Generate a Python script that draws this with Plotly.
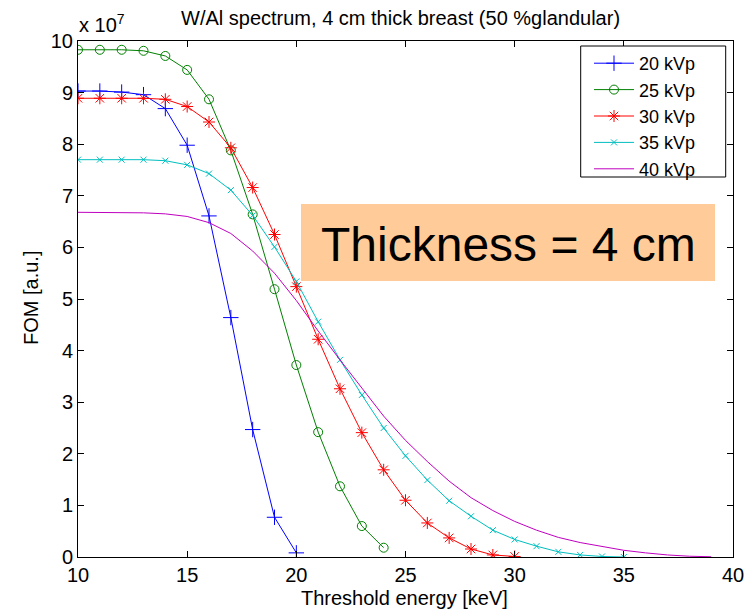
import plotly.graph_objects as go

# ---- data (FOM in units of 1e7) ----
energy_20 = list(range(10, 21))
fom_20 = [9.03, 9.03, 9.01, 8.96, 8.69, 7.98, 6.61, 4.64, 2.47, 0.77, 0.08]

energy_25 = list(range(10, 25))
fom_25 = [9.83, 9.83, 9.83, 9.81, 9.71, 9.44, 8.87, 7.88, 6.64, 5.19, 3.72, 2.42, 1.37, 0.60, 0.18]

energy_30 = list(range(10, 31))
fom_30 = [8.89, 8.89, 8.89, 8.89, 8.87, 8.73, 8.43, 7.93, 7.16, 6.25, 5.24, 4.22, 3.26, 2.41,
          1.69, 1.10, 0.66, 0.37, 0.155, 0.04, 0.01]

energy_35 = list(range(10, 36))
fom_35 = [7.70, 7.70, 7.70, 7.70, 7.68, 7.60, 7.43, 7.11, 6.62, 6.01, 5.34, 4.56, 3.82, 3.14,
          2.50, 1.96, 1.49, 1.09, 0.79, 0.52, 0.34, 0.21, 0.10, 0.04, 0.01, 0.0]

energy_40 = list(range(10, 40))
fom_40 = [6.68, 6.68, 6.68, 6.67, 6.65, 6.60, 6.48, 6.27, 5.93, 5.50, 4.97, 4.38, 3.82, 3.28,
          2.73, 2.26, 1.85, 1.47, 1.15, 0.90, 0.69, 0.52, 0.38, 0.28, 0.20, 0.13, 0.08, 0.04,
          0.015, 0.005]

series_names = ["20 kVp", "25 kVp", "30 kVp", "35 kVp", "40 kVp"]
x_ticks = [10, 15, 20, 25, 30, 35, 40]
y_ticks = list(range(0, 11))

title_text = "W/Al spectrum, 4 cm thick breast (50 %glandular)"
x_title = "Threshold energy [keV]"
y_title = "FOM [a.u.]"
box_text = "Thickness = 4 cm"

FONT = "Liberation Sans, Arial, sans-serif"

# ---- figure geometry (page pixels; the page body adds an 8px margin) ----
OFF = 8
W, H = 755 - OFF, 612 - OFF
L, R, T, B = 78 - OFF, 22, 41 - OFF, 55
PW, PH = W - L - R, H - T - B
PLOT_LEFT, PLOT_BOTTOM = 78, 557


def px_x(px):
    return (px - PLOT_LEFT) / PW


def px_y(py):
    return (PLOT_BOTTOM - py) / PH


styles = [
    dict(color="#0000FF", symbol="cross-thin-open", size=11, mode="lines+markers"),
    dict(color="#008000", symbol="circle-open", size=9, mode="lines+markers"),
    dict(color="#FF0000", symbol="asterisk-open", size=10, mode="lines+markers"),
    dict(color="#00BFBF", symbol="x-thin-open", size=6, mode="lines+markers"),
    dict(color="#BF00BF", symbol="circle", size=1, mode="lines"),
]
data = [(energy_20, fom_20), (energy_25, fom_25), (energy_30, fom_30),
        (energy_35, fom_35), (energy_40, fom_40)]

fig = go.Figure()
for (xs, ys), name, st in zip(data, series_names, styles):
    kw = dict(x=xs, y=ys, name=name, mode=st["mode"],
              line=dict(color=st["color"], width=1))
    if "markers" in st["mode"]:
        kw["marker"] = dict(symbol=st["symbol"], size=st["size"], color=st["color"],
                            line=dict(color=st["color"], width=1))
    fig.add_trace(go.Scatter(**kw))

axis_common = dict(showline=True, linecolor="black", linewidth=1, mirror="ticks",
                   ticks="inside", ticklen=6, tickcolor="black", tickwidth=1,
                   showgrid=False, zeroline=False,
                   tickfont=dict(family=FONT, size=20, color="black"))

fig.update_xaxes(range=[10, 40], tickvals=x_ticks, **axis_common)
fig.update_yaxes(range=[0, 10], tickvals=y_ticks, **axis_common)

shapes = [
    # legend box
    dict(type="rect", xref="paper", yref="paper", layer="above",
         x0=px_x(580.7), x1=px_x(725.7), y0=px_y(177), y1=px_y(46),
         fillcolor="white", line=dict(color="black", width=1)),
    # orange highlight box
    dict(type="rect", xref="paper", yref="paper", layer="above",
         x0=px_x(301), x1=px_x(715), y0=px_y(281), y1=px_y(204),
         fillcolor="#FFCC99", line=dict(width=0)),
]

annotations = [
    dict(text=title_text, xref="paper", yref="paper", x=px_x(400), y=px_y(18),
         xanchor="center", yanchor="middle", showarrow=False,
         font=dict(family=FONT, size=20, color="black")),
    dict(text="x 10<sup>7</sup>", xref="paper", yref="paper", x=px_x(77), y=px_y(24),
         xanchor="left", yanchor="middle", showarrow=False,
         font=dict(family=FONT, size=20, color="black")),
    dict(text=x_title, xref="paper", yref="paper", x=px_x(404), y=px_y(598),
         xanchor="center", yanchor="middle", showarrow=False,
         font=dict(family=FONT, size=20, color="black")),
    dict(text=y_title, xref="paper", yref="paper", x=px_x(31), y=px_y(298),
         xanchor="center", yanchor="middle", showarrow=False, textangle=-90,
         font=dict(family=FONT, size=20, color="black")),
    dict(text=box_text, xref="paper", yref="paper", x=px_x(508), y=px_y(244),
         xanchor="center", yanchor="middle", showarrow=False,
         font=dict(family=FONT, size=48, color="black")),
]

fig.update_layout(
    width=W, height=H,
    margin=dict(l=L, r=R, t=T, b=B, pad=0),
    plot_bgcolor="white", paper_bgcolor="white",
    font=dict(family=FONT, size=20, color="black"),
    showlegend=True,
    legend=dict(x=px_x(589), y=px_y(45), xanchor="left", yanchor="top",
                bgcolor="rgba(0,0,0,0)", borderwidth=0,
                font=dict(family=FONT, size=18, color="black"),
                itemwidth=40),
    shapes=shapes,
    annotations=annotations,
)

fig.write_html("out.html")
